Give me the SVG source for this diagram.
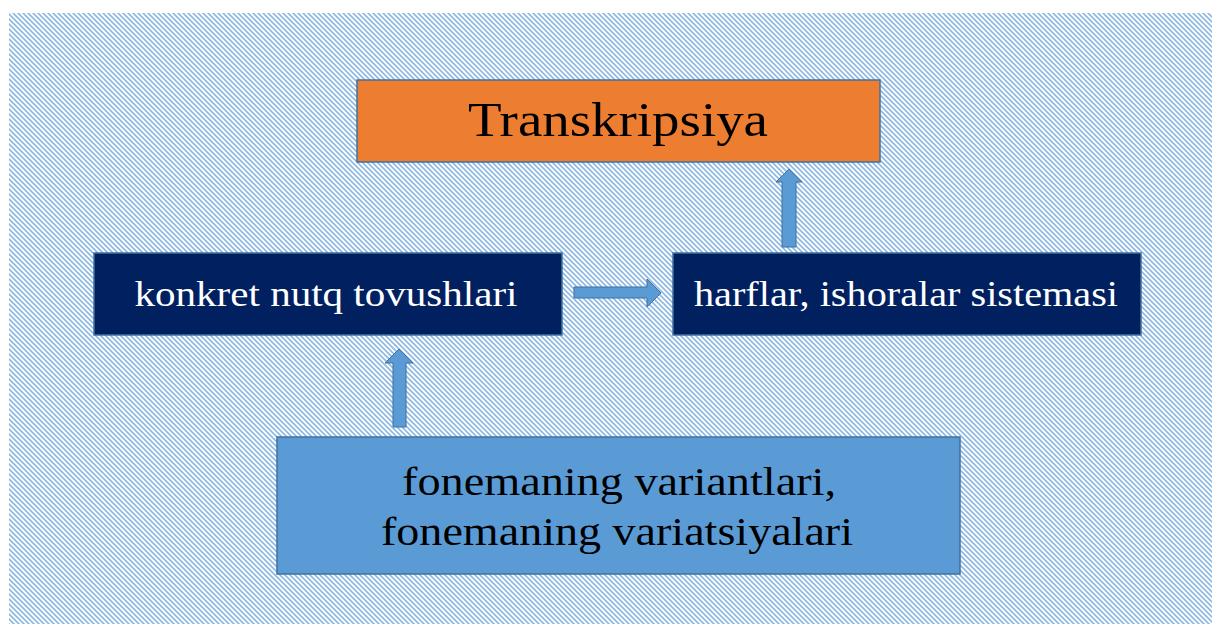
<svg xmlns="http://www.w3.org/2000/svg" width="1220" height="628" viewBox="0 0 1220 628">
<defs>
<pattern id="hatch" patternUnits="userSpaceOnUse" width="5" height="5">
<rect width="5" height="5" fill="#ffffff"/>
<path d="M-1,-1 L6,6 M-1,4 L1,6 M4,-1 L6,1" stroke="#8DB8E3" stroke-width="1.6"/>
</pattern>
</defs>
<style>
.box{stroke:#41719C;stroke-width:1.5}
.arrow{fill:#5B9BD5;stroke:#41719C;stroke-width:1}
.t{font-family:"Liberation Serif","Times New Roman",serif;text-anchor:middle}
</style>
<rect width="1220" height="628" fill="#ffffff"/>
<rect x="9" y="13" width="1203" height="611" fill="url(#hatch)"/>
<g id="connectors">
<path class="arrow" d="M574,287 L647,287 L647,279 L661,293 L647,307 L647,298 L574,298 Z"/>
<path class="arrow" d="M782,247 L782,182 L776,182 L789,169 L802,182 L796,182 L796,247 Z"/>
<path class="arrow" d="M393,427 L393,363 L385,363 L399,349 L413,363 L406,363 L406,427 Z"/>
</g>
<g id="transkripsiya">
<rect class="box" x="357" y="80" width="523" height="82" fill="#ED7D31"/>
<text class="t" x="618" y="136" font-size="48" fill="#000000" textLength="300" lengthAdjust="spacingAndGlyphs">Transkripsiya</text>
</g>
<g id="konkret">
<rect class="box" x="94" y="253" width="468" height="82" fill="#002060"/>
<text class="t" x="326" y="306" font-size="35" fill="#ffffff" textLength="383" lengthAdjust="spacingAndGlyphs">konkret nutq tovushlari</text>
</g>
<g id="harflar">
<rect class="box" x="673" y="253" width="468" height="82" fill="#002060"/>
<text class="t" x="906" y="306" font-size="35" fill="#ffffff" textLength="424" lengthAdjust="spacingAndGlyphs">harflar, ishoralar sistemasi</text>
</g>
<g id="fonemaning">
<rect class="box" x="277" y="437" width="683" height="137" fill="#5B9BD5"/>
<text class="t" x="619" y="495" font-size="40" fill="#000000" textLength="434" lengthAdjust="spacingAndGlyphs">fonemaning variantlari,</text>
<text class="t" x="617" y="545" font-size="40" fill="#000000" textLength="472" lengthAdjust="spacingAndGlyphs">fonemaning variatsiyalari</text>
</g>
</svg>
